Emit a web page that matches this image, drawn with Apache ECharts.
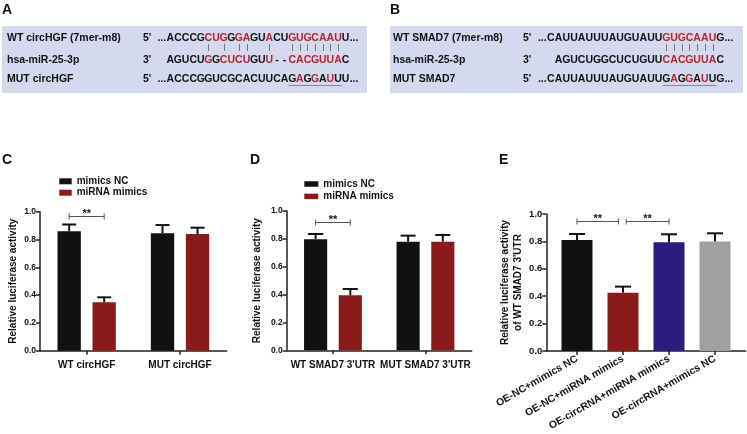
<!DOCTYPE html>
<html><head><meta charset="utf-8">
<script src="https://cdn.jsdelivr.net/npm/echarts@6/dist/echarts.min.js"></script>
<style>html,body{margin:0;padding:0;background:#fff}#c{width:747px;height:434px}</style>
</head><body><div id="c"></div>
<script>
// ---------- data ----------
const seriesNames = ['mimics NC', 'miRNA mimics'];
// Panel C
const catC = ['WT circHGF', 'MUT circHGF'];
const ncC = [0.86, 0.845];
const ncCErr = [0.048, 0.059];
const mimC = [0.348, 0.84];
const mimCErr = [0.036, 0.045];
// Panel D
const catD = ["WT SMAD7 3'UTR", "MUT SMAD7 3'UTR"];
const ncD = [0.797, 0.78];
const ncDErr = [0.038, 0.043];
const mimD = [0.395, 0.78];
const mimDErr = [0.045, 0.048];
// Panel E
const catE = ['OE-NC+mimics NC', 'OE-NC+miRNA mimics', 'OE-circRNA+miRNA mimics', 'OE-circRNA+mimics NC'];
const valE = [0.81, 0.426, 0.793, 0.80];
const errE = [0.044, 0.044, 0.059, 0.059];
const yTickLabels = ['0.0', '0.2', '0.4', '0.6', '0.8', '1.0'];
// significance brackets (C, D): [category, fromOffset, toOffset, y]
const sigC = [[0, -0.1875, 0.1875, 0.969]];
const sigD = [[0, -0.1875, 0.1875, 0.923]];
// significance brackets (E): [from, to, y]
const sigE = [[0, 0.9, 0.949], [1.07, 2.0, 0.949]];
// sequences ([...] = red letters)
const seqA = {
  wt: 'ACCCG[CUG]G[GA]GU[A]CU[GUGCAAU]U',
  mi: 'AGUCU[G]G[CUCU]GU[U]--[CACGUUA]C',
  mut: 'ACCCGGUCGCACUUCAG[A]G[G]A[U]UU',
  pairs: [5, 7, 9, 10, 13, 16, 17, 18, 19, 20, 21, 22]
};
const seqB = {
  wt: 'CAUUAUUUAUGUAUU[GUGCAAU]G',
  mi: 'AGUCUGGCUCUGUU[CACGUUA]C',
  mut: 'CAUUAUUUAUGUAUUG[A]G[G]A[U]UG',
  pairs: [15, 16, 17, 18, 19, 20, 21]
};

// ---------- styling ----------
const FF = '"Liberation Sans", Arial, Helvetica, sans-serif';
const BLACK = '#111111', RED = '#8b1a1a', BLUE = '#2c1a7c', GREY = '#a0a0a0';
const SEQRED = '#b3262b';
const AX = '#222';

function txt(str, x, y, size, align, color, vAlign) {
  return {type: 'text', x: x, y: y, z: 10,
    style: {text: str, fill: color || BLACK, font: 'bold ' + size + 'px ' + FF,
      textAlign: align || 'left', align: align || 'left',
      textVerticalAlign: vAlign || 'middle', verticalAlign: vAlign || 'middle'}};
}
function seqRow(x0, y, pitch, markup, dots) {
  const els = [];
  let red = false, i = 0;
  if (dots) els.push(txt('...', x0 - 0.3, y, 10.5, 'right'));
  for (const ch of markup) {
    if (ch === '[') { red = true; continue; }
    if (ch === ']') { red = false; continue; }
    els.push(txt(ch, x0 + pitch * (i + 0.5), y, 10.5, 'center', red ? SEQRED : BLACK));
    i++;
  }
  if (dots) els.push(txt('...', x0 + pitch * i + 0.3, y, 10.5, 'left'));
  return els;
}
function seqPanel(boxX, boxW, labX, primeX, x0, pitch, miShift, seq, names) {
  const els = [];
  els.push({type: 'rect', shape: {x: boxX, y: 26, width: boxW, height: 67}, style: {fill: '#d5d9ee'}, z: 1});
  const ys = [38.5, 60.5, 79.5];
  els.push(txt(names[0], labX, ys[0], 10.5));
  els.push(txt(names[1], labX, ys[1], 10.5));
  els.push(txt(names[2], labX, ys[2], 10.5));
  els.push(txt("5'", primeX, ys[0], 10.5));
  els.push(txt("3'", primeX, ys[1], 10.5));
  els.push(txt("5'", primeX, ys[2], 10.5));
  els.push(...seqRow(x0, ys[0], pitch, seq.wt, true));
  els.push(...seqRow(x0 + miShift * pitch, ys[1], pitch, seq.mi, false));
  els.push(...seqRow(x0, ys[2], pitch, seq.mut, true));
  seq.pairs.forEach(function (i) {
    const x = Math.round(x0 + pitch * (i + 0.5)) + 0.5;
    els.push({type: 'line', shape: {x1: x, y1: 44, x2: x, y2: 51}, style: {stroke: '#777', lineWidth: 1}, z: 10});
  });
  const u0 = seq.pairs[seq.pairs.length - 7];
  els.push({type: 'line', shape: {x1: x0 + pitch * u0, y1: 85.5, x2: x0 + pitch * (u0 + 7), y2: 85.5},
    style: {stroke: '#888', lineWidth: 1}, z: 10});
  return els;
}

const graphics = [];
graphics.push(txt('A', 2, 10, 14));
graphics.push(txt('B', 390, 10, 14));
graphics.push(txt('C', 2, 160, 14));
graphics.push(txt('D', 250, 160, 14));
graphics.push(txt('E', 499, 160, 14));
graphics.push(...seqPanel(2, 365, 7, 143, 166.5, 7.62, 0, seqA, ['WT circHGF (7mer-m8)', 'hsa-miR-25-3p', 'MUT circHGF']));
graphics.push(...seqPanel(390, 353, 393, 523, 547, 7.7, 1, seqB, ['WT SMAD7 (7mer-m8)', 'hsa-miR-25-3p', 'MUT SMAD7']));

// ---------- axes ----------
function yAx(gi, name, nameGap, labSize) {
  return {type: 'value', gridIndex: gi, min: 0, max: 1, interval: 0.2,
    axisLine: {show: true, onZero: false, lineStyle: {color: AX, width: 1.5}},
    axisTick: {show: true, length: 4, lineStyle: {color: AX, width: 1.5}},
    axisLabel: {margin: 4, color: BLACK, fontFamily: FF, fontWeight: 'bold', fontSize: labSize,
      formatter: function (v) { return yTickLabels[Math.round(v * 5)]; }},
    splitLine: {show: false},
    name: name, nameLocation: 'middle', nameGap: nameGap, nameRotate: 90,
    nameTextStyle: {color: BLACK, fontFamily: FF, fontWeight: 'bold', fontSize: 10, lineHeight: 13}};
}
function xCat(gi, data) {
  return {type: 'category', gridIndex: gi, data: data,
    axisLine: {show: true, onZero: false, lineStyle: {color: AX, width: 1.5}},
    axisTick: {show: true, alignWithLabel: true, length: 4, lineStyle: {color: AX, width: 1.5}},
    axisLabel: {margin: 10, color: BLACK, fontFamily: FF, fontWeight: 'bold', fontSize: 10, interval: 0},
    splitLine: {show: false}};
}

function errRender(capW) {
  return function (params, api) {
    const cat = api.value(0), v = api.value(1), e = api.value(2), off = api.value(3);
    const base = api.coord([cat, v]);
    const top = api.coord([cat, v + e]);
    const band = api.size([1, 0])[0];
    const x = base[0] + off * band;
    return {type: 'group', children: [
      {type: 'line', shape: {x1: x, y1: base[1], x2: x, y2: top[1]}, style: {stroke: BLACK, lineWidth: 2}},
      {type: 'line', shape: {x1: x - capW / 2, y1: top[1], x2: x + capW / 2, y2: top[1]}, style: {stroke: BLACK, lineWidth: 2}}
    ]};
  };
}
function bracket(x1, x2, yy) {
  const st = {stroke: '#555', lineWidth: 1};
  return {type: 'group', children: [
    {type: 'line', shape: {x1: x1, y1: yy, x2: x2, y2: yy}, style: st},
    {type: 'line', shape: {x1: x1, y1: yy - 3, x2: x1, y2: yy + 3}, style: st},
    {type: 'line', shape: {x1: x2, y1: yy - 3, x2: x2, y2: yy + 3}, style: st},
    {type: 'text', x: (x1 + x2) / 2, y: yy - 3, style: {text: '**', fill: BLACK, font: 'bold 11px ' + FF,
      textAlign: 'center', align: 'center', textVerticalAlign: 'middle', verticalAlign: 'middle'}}
  ]};
}
function sigCatRender(params, api) {
  const cat = api.value(0), a = api.value(1), b = api.value(2), y = api.value(3);
  const p = api.coord([cat, y]);
  const unit = api.size([1, 0])[0];
  return bracket(p[0] + a * unit, p[0] + b * unit, Math.round(p[1]) + 0.5);
}
function sigValRender(params, api) {
  const a = api.value(0), b = api.value(1), y = api.value(2);
  const p1 = api.coord([a, y]), p2 = api.coord([b, y]);
  return bracket(p1[0], p2[0], Math.round(p1[1]) + 0.5);
}
function errData(vals, errs, off) { return vals.map(function (v, i) { return [i, v, errs[i], off]; }); }

const series = [
  // C
  {type: 'bar', name: seriesNames[0], xAxisIndex: 0, yAxisIndex: 0, data: ncC, barWidth: '25%', barGap: '50%', itemStyle: {color: BLACK}},
  {type: 'bar', name: seriesNames[1], xAxisIndex: 0, yAxisIndex: 0, data: mimC, barWidth: '25%', barGap: '50%', itemStyle: {color: RED}},
  {type: 'custom', xAxisIndex: 0, yAxisIndex: 0, renderItem: errRender(14), data: errData(ncC, ncCErr, -0.1875), z: 5},
  {type: 'custom', xAxisIndex: 0, yAxisIndex: 0, renderItem: errRender(14), data: errData(mimC, mimCErr, 0.1875), z: 5},
  {type: 'custom', xAxisIndex: 0, yAxisIndex: 0, renderItem: sigCatRender, data: sigC, encode: {x: 0, y: 3}, z: 5},
  // D
  {type: 'bar', name: seriesNames[0], xAxisIndex: 1, yAxisIndex: 1, data: ncD, barWidth: '25%', barGap: '50%', itemStyle: {color: BLACK}},
  {type: 'bar', name: seriesNames[1], xAxisIndex: 1, yAxisIndex: 1, data: mimD, barWidth: '25%', barGap: '50%', itemStyle: {color: RED}},
  {type: 'custom', xAxisIndex: 1, yAxisIndex: 1, renderItem: errRender(15), data: errData(ncD, ncDErr, -0.1875), z: 5},
  {type: 'custom', xAxisIndex: 1, yAxisIndex: 1, renderItem: errRender(15), data: errData(mimD, mimDErr, 0.1875), z: 5},
  {type: 'custom', xAxisIndex: 1, yAxisIndex: 1, renderItem: sigCatRender, data: sigD, encode: {x: 0, y: 3}, z: 5},
  // E
  {type: 'bar', name: 'E', xAxisIndex: 2, yAxisIndex: 2, barWidth: 31,
    data: valE.map(function (v, i) { return {value: [i, v], itemStyle: {color: [BLACK, RED, BLUE, GREY][i]}}; })},
  {type: 'custom', xAxisIndex: 2, yAxisIndex: 2, renderItem: errRender(16), data: errData(valE, errE, 0), z: 5},
  {type: 'custom', xAxisIndex: 2, yAxisIndex: 2, renderItem: sigValRender, data: sigE, encode: {x: 0, y: 2}, z: 5}
];

const legendBase = {orient: 'vertical', icon: 'rect', padding: 0, selectedMode: false, data: seriesNames,
  textStyle: {color: BLACK, fontFamily: FF, fontWeight: 'bold', fontSize: 10, lineHeight: 11}};

const option = {
  animation: false,
  backgroundColor: '#fff',
  grid: [
    {left: 40, top: 211.7, width: 186.7, height: 139},
    {left: 286.7, top: 211, width: 185, height: 139.3},
    {left: 546.3, top: 214, width: 199.4, height: 137}
  ],
  legend: [
    Object.assign({}, legendBase, {left: 59.3, top: 175.8, itemWidth: 12.4, itemHeight: 6, itemGap: 0.4}),
    Object.assign({}, legendBase, {left: 304.3, top: 178.5, itemWidth: 14, itemHeight: 5.5, itemGap: 1.4})
  ],
  xAxis: [
    xCat(0, catC),
    xCat(1, catD),
    {type: 'value', gridIndex: 2, min: -0.667, max: 3.667,
      axisLine: {show: true, onZero: false, lineStyle: {color: AX, width: 1.5}},
      axisTick: {show: true, length: 4, customValues: [0, 1, 2, 3], lineStyle: {color: AX, width: 1.5}},
      axisLabel: {customValues: [0, 1, 2, 3], rotate: 30, margin: 7, color: BLACK, fontFamily: FF, fontWeight: 'bold', fontSize: 10.3,
        formatter: function (v) { return catE[Math.round(v)] || ''; }},
      splitLine: {show: false}}
  ],
  yAxis: [
    yAx(0, 'Relative luciferase activity', 20, 8.5),
    yAx(1, 'Relative luciferase activity', 23, 8.5),
    yAx(2, "Relative luciferase activity\nof WT SMAD7 3'UTR", 19, 9.5)
  ],
  series: series,
  graphic: graphics
};

const chart = echarts.init(document.getElementById('c'), null, {renderer: 'canvas'});
chart.setOption(option);
</script>
</body></html>
